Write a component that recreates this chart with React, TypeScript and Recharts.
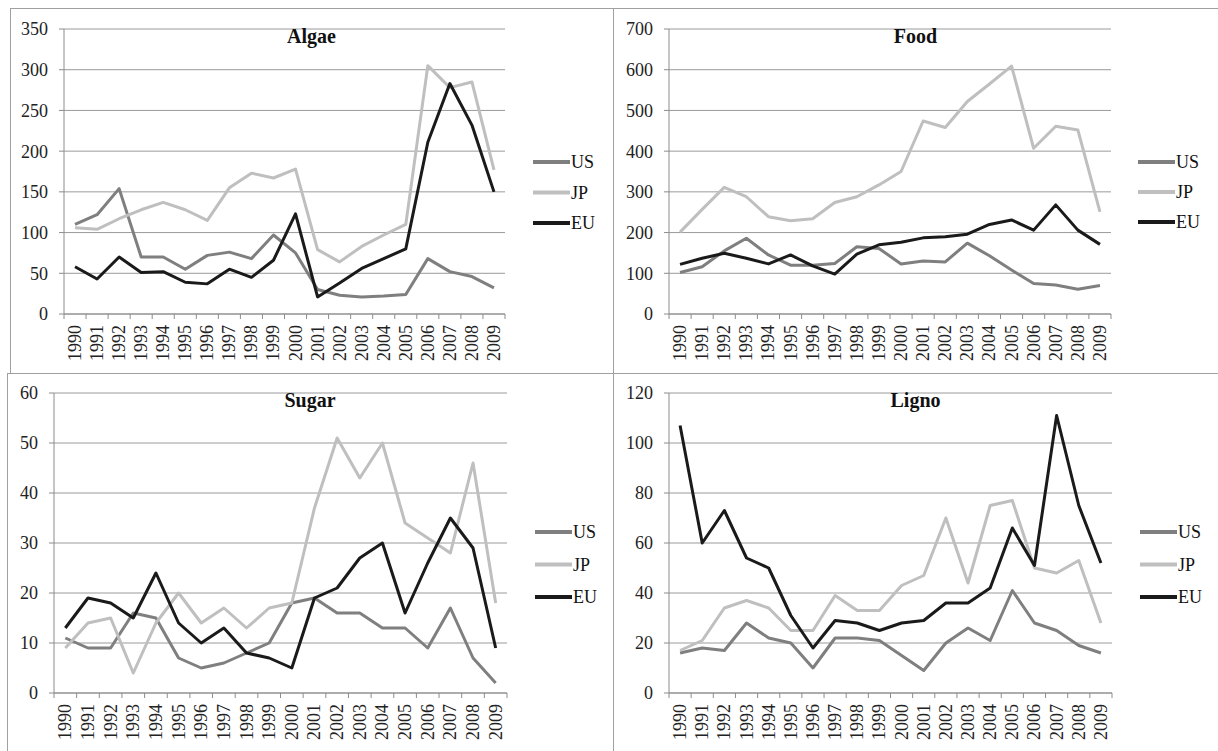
import React from 'react';
import { LineChart, Line, XAxis, YAxis, CartesianGrid, Legend } from 'recharts';

const years = ['1990','1991','1992','1993','1994','1995','1996','1997','1998','1999','2000','2001','2002','2003','2004','2005','2006','2007','2008','2009'];

const algaeUS = [110,122,154,70,70,55,72,76,68,97,75,30,23,21,22,24,68,52,46,32];
const algaeJP = [106,104,117,128,137,128,115,155,173,167,178,79,64,83,97,110,305,278,285,177];
const algaeEU = [58,43,70,51,52,39,37,55,45,66,123,21,38,56,68,80,211,283,232,150];
const algaeTicks = [0,50,100,150,200,250,300,350];

const foodUS = [102,116,155,186,145,120,120,124,165,161,123,130,128,174,143,108,75,71,61,70];
const foodJP = [201,257,311,288,239,229,234,274,288,317,350,474,458,522,565,609,407,461,452,251];
const foodEU = [122,137,149,137,123,145,118,98,147,170,176,187,190,196,220,231,206,268,206,171];
const foodTicks = [0,100,200,300,400,500,600,700];

const sugarUS = [11,9,9,16,15,7,5,6,8,10,18,19,16,16,13,13,9,17,7,2];
const sugarJP = [9,14,15,4,14,20,14,17,13,17,18,37,51,43,50,34,31,28,46,18];
const sugarEU = [13,19,18,15,24,14,10,13,8,7,5,19,21,27,30,16,26,35,29,9];
const sugarTicks = [0,10,20,30,40,50,60];

const lignoUS = [16,18,17,28,22,20,10,22,22,21,15,9,20,26,21,41,28,25,19,16];
const lignoJP = [17,21,34,37,34,25,25,39,33,33,43,47,70,44,75,77,50,48,53,28];
const lignoEU = [107,60,73,54,50,31,18,29,28,25,28,29,36,36,42,66,51,111,75,52];
const lignoTicks = [0,20,40,60,80,100,120];

const SERIES = [
  { key: 'US', color: '#7f7f7f' },
  { key: 'JP', color: '#bfbfbf' },
  { key: 'EU', color: '#1a1a1a' },
];

const FONT = '"Liberation Serif", "Times New Roman", serif';
const AXIS = '#8c8c8c';
const GRID = '#9a9a9a';
const FRAME = '#a0a0a0';

function rows(us: number[], jp: number[], eu: number[]) {
  return years.map((y, i) => ({ year: y, US: us[i], JP: jp[i], EU: eu[i] }));
}

const XTick = (props: any) => {
  const { x, y, payload, index } = props;
  const off = payload && payload.offset != null ? payload.offset : 0;
  const axisY = y - 11;
  const last = index === years.length - 1;
  return (
    <g>
      <line x1={x - off} x2={x - off} y1={axisY} y2={axisY + 5} stroke={AXIS} />
      {last && <line x1={x + off} x2={x + off} y1={axisY} y2={axisY + 5} stroke={AXIS} />}
      <text
        x={x}
        y={y}
        transform={`rotate(-90, ${x}, ${y})`}
        textAnchor="end"
        dominantBaseline="central"
        fontSize={18}
        style={{ fontFamily: FONT }}
        fill="#222"
      >
        {payload.value}
      </text>
    </g>
  );
};

const makeLegend = (gap: number) => (props: any) => {
  const payload: any[] = props.payload || [];
  return (
    <svg width={90} height={gap * 2 + 20} style={{ display: 'block', overflow: 'visible' }}>
      {SERIES.map((s, i) => {
        const p = payload.find((q) => q.value === s.key || q.dataKey === s.key);
        const color = p ? p.color : s.color;
        return (
          <g key={s.key}>
            <line x1={0} x2={37} y1={10 + i * gap} y2={10 + i * gap} stroke={color} strokeWidth={4} />
            <text x={38} y={10 + i * gap} dominantBaseline="central" fontSize={18} style={{ fontFamily: FONT }} fill="#111">
              {s.key}
            </text>
          </g>
        );
      })}
    </svg>
  );
};

type PanelProps = {
  title: string;
  data: any[];
  ticks: number[];
  left: number;
  top: number;
  width: number;
  height: number;
  margin: { top: number; right: number; bottom: number; left: number };
  yWidth: number;
  legendLeft: number;
  legendTop: number;
  legendGap: number;
  titleTop: number;
};

function Panel(p: PanelProps) {
  const max = p.ticks[p.ticks.length - 1];
  return (
    <div style={{ position: 'absolute', left: p.left, top: p.top, width: p.width, height: p.height, fontFamily: FONT }}>
      <LineChart width={p.width} height={p.height} data={p.data} margin={p.margin} style={{ fontFamily: FONT }}>
        <CartesianGrid vertical={false} stroke={GRID} strokeWidth={1} />
        <XAxis
          dataKey="year"
          scale="band"
          interval={0}
          tickLine={false}
          tickSize={5}
          tickMargin={6}
          height={55}
          stroke={AXIS}
          tick={<XTick />}
        />
        <YAxis
          type="number"
          domain={[0, max]}
          ticks={p.ticks}
          interval={0}
          width={p.yWidth}
          tickSize={5}
          tickMargin={11}
          stroke={AXIS}
          tick={{ fill: '#222', fontSize: 18, fontFamily: FONT, style: { fontFamily: FONT } }}
        />
        <Legend
          layout="vertical"
          align="center"
          verticalAlign="middle"
          content={makeLegend(p.legendGap)}
          wrapperStyle={{ left: p.legendLeft, top: p.legendTop, width: 90, height: p.legendGap * 2 + 20 }}
        />
        {SERIES.map((s) => (
          <Line
            key={s.key}
            type="linear"
            dataKey={s.key}
            stroke={s.color}
            strokeWidth={3}
            strokeLinejoin="round"
            dot={false}
            activeDot={false}
            isAnimationActive={false}
          />
        ))}
      </LineChart>
      <div
        style={{
          position: 'absolute',
          left: 0,
          width: p.width,
          top: p.titleTop,
          textAlign: 'center',
          fontFamily: FONT,
          fontWeight: 'bold',
          fontSize: 20,
          lineHeight: '20px',
          color: '#111',
          pointerEvents: 'none',
        }}
      >
        {p.title}
      </div>
    </div>
  );
}

export default function App() {
  return (
    <div style={{ position: 'absolute', left: 0, top: 0, width: 1218, height: 751, background: '#fff', overflow: 'hidden', fontFamily: FONT }}>
      <Panel
        title="Algae"
        data={rows(algaeUS, algaeJP, algaeEU)}
        ticks={algaeTicks}
        left={10}
        top={8}
        width={603}
        height={365}
        margin={{ top: 21, right: 108, bottom: 4, left: 4 }}
        yWidth={50}
        legendLeft={523}
        legendTop={144}
        legendGap={30.5}
        titleTop={18}
      />
      <Panel
        title="Food"
        data={rows(foodUS, foodJP, foodEU)}
        ticks={foodTicks}
        left={613}
        top={8}
        width={605}
        height={365}
        margin={{ top: 21, right: 107, bottom: 4, left: 6 }}
        yWidth={50}
        legendLeft={525}
        legendTop={144}
        legendGap={30}
        titleTop={18}
      />
      <Panel
        title="Sugar"
        data={rows(sugarUS, sugarJP, sugarEU)}
        ticks={sugarTicks}
        left={7}
        top={373}
        width={606}
        height={378}
        margin={{ top: 20, right: 106, bottom: 3, left: 7 }}
        yWidth={40}
        legendLeft={528}
        legendTop={149}
        legendGap={32.5}
        titleTop={17}
      />
      <Panel
        title="Ligno"
        data={rows(lignoUS, lignoJP, lignoEU)}
        ticks={lignoTicks}
        left={613}
        top={373}
        width={605}
        height={378}
        margin={{ top: 20, right: 106, bottom: 3, left: 6 }}
        yWidth={50}
        legendLeft={527}
        legendTop={149}
        legendGap={32.5}
        titleTop={17}
      />
      <div style={{ position: 'absolute', left: 10, top: 8, width: 1208, height: 1, background: FRAME }} />
      <div style={{ position: 'absolute', left: 10, top: 8, width: 1, height: 365, background: FRAME }} />
      <div style={{ position: 'absolute', left: 613, top: 8, width: 1, height: 743, background: FRAME }} />
      <div style={{ position: 'absolute', left: 7, top: 373, width: 1211, height: 1, background: FRAME }} />
      <div style={{ position: 'absolute', left: 7, top: 373, width: 1, height: 378, background: FRAME }} />
    </div>
  );
}
